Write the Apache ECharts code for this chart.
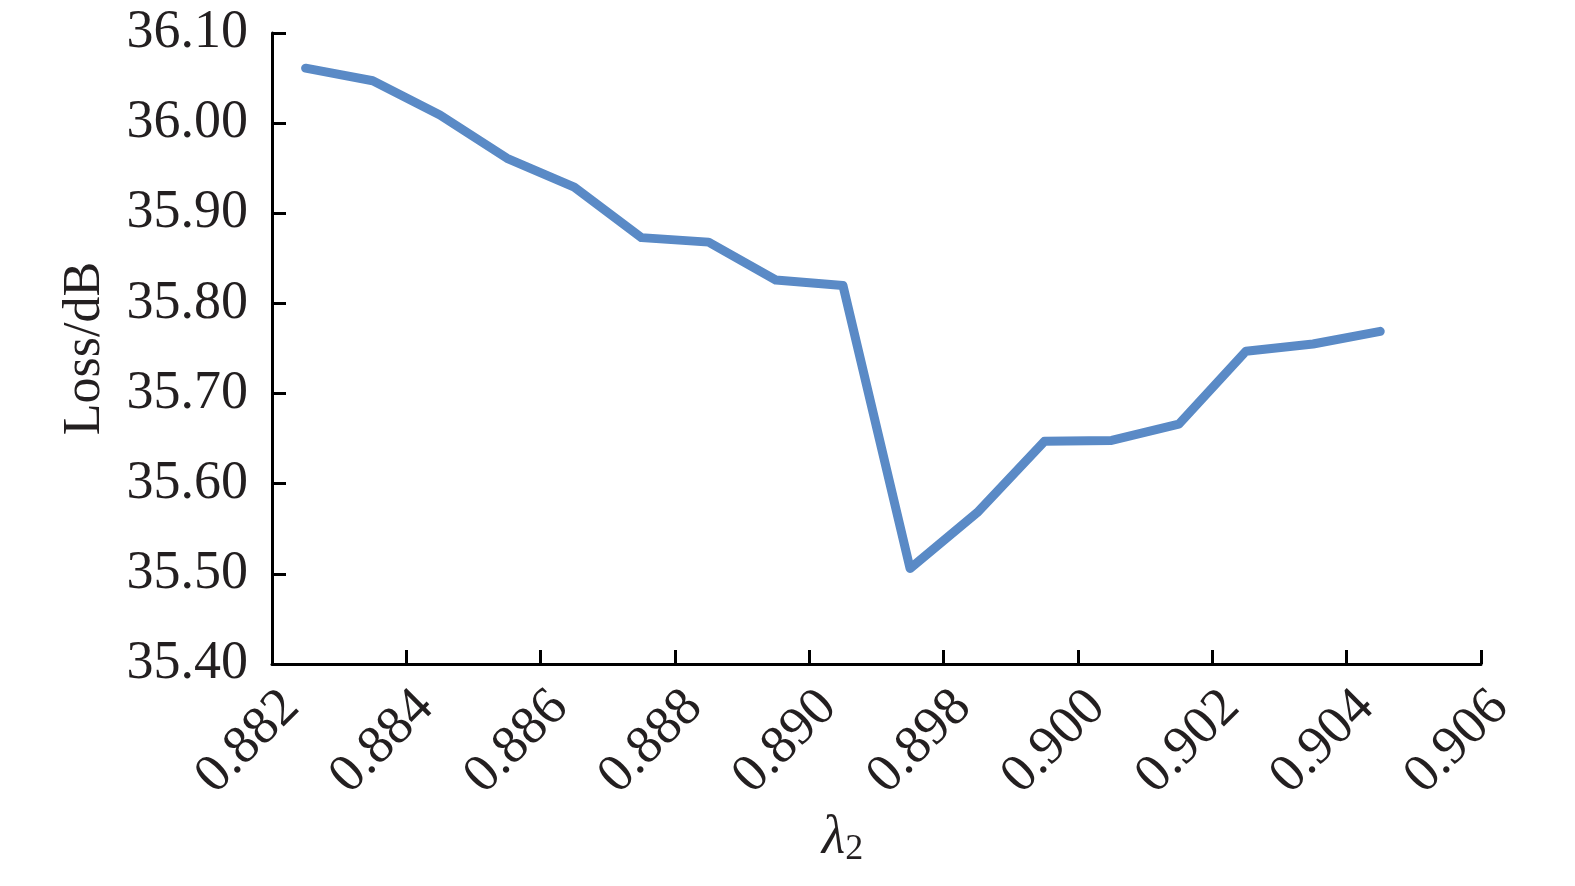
<!DOCTYPE html>
<html>
<head>
<meta charset="utf-8">
<script src="https://cdn.jsdelivr.net/npm/echarts@6/dist/echarts.min.js"></script>
<style>
    html, body { margin: 0; padding: 0; background: #fff; }
    #chart { width: 1575px; height: 886px; }
</style>
</head>
<body>
<div id="chart"></div>
<script>
// tick labels sit on the boundaries, the points sit between them
var tickLabels = ['0.882', '0.884', '0.886', '0.888', '0.890', '0.898', '0.900', '0.902', '0.904', '0.906']
var lossValues = [
    36.061, 36.047, 36.009, 35.961, 35.929, 35.873, 35.868, 35.826, 35.820,
    35.506, 35.568, 35.647, 35.648, 35.666, 35.747, 35.755, 35.769
]
var yTicks = { min: 35.4, max: 36.1, step: 0.1 }

var font = 'Liberation Serif'
var myChart = echarts.init(document.getElementById('chart'))

var option = {
    animation: false,
    grid: { left: 272, right: 94, top: 33, bottom: 222 },
    xAxis: {
        type: 'value',
        min: 0,
        max: (tickLabels.length - 1) * 2,
        interval: 2,
        name: '{l|λ}{s|2}',
        nameLocation: 'middle',
        nameGap: 146,
        nameTextStyle: {
            padding: [0, 68, 0, 0],
            rich: {
                l: { fontFamily: font, fontStyle: 'italic', fontSize: 54, color: '#231f20' },
                s: { fontFamily: font, fontSize: 36, color: '#231f20', padding: [22, 0, 0, 0] }
            }
        },
        splitLine: { show: false },
        axisLine: { lineStyle: { color: '#000', width: 3 } },
        axisTick: { inside: true, length: 14, lineStyle: { color: '#000', width: 3 } },
        axisLabel: {
            rotate: 45,
            margin: 16,
            verticalAlign: 'top',
            fontFamily: font,
            fontSize: 54,
            color: '#231f20',
            showMinLabel: true,
            showMaxLabel: true,
            formatter: function(v) {
                return tickLabels[Math.round(v / 2)]
            }
        }
    },
    yAxis: {
        type: 'value',
        min: yTicks.min,
        max: yTicks.max,
        interval: yTicks.step,
        name: 'Loss/dB',
        nameLocation: 'middle',
        nameGap: 161,
        nameTextStyle: { fontFamily: font, fontSize: 52, color: '#231f20' },
        splitLine: { show: false },
        axisLine: { show: true, lineStyle: { color: '#000', width: 3 } },
        axisTick: { show: true, inside: true, length: 14, lineStyle: { color: '#000', width: 3 } },
        axisLabel: {
            margin: 24,
            fontFamily: font,
            fontSize: 54,
            color: '#231f20',
            formatter: function(v) {
                return v.toFixed(2)
            }
        }
    },
    series: [
        {
            type: 'line',
            showSymbol: false,
            symbol: 'none',
            lineStyle: { color: '#5a8ac6', width: 9, cap: 'round', join: 'round' },
            data: lossValues.map(function(v, i) { return [i + 0.5, v] })
        }
    ]
}
myChart.setOption(option)
</script>
</body>
</html>
